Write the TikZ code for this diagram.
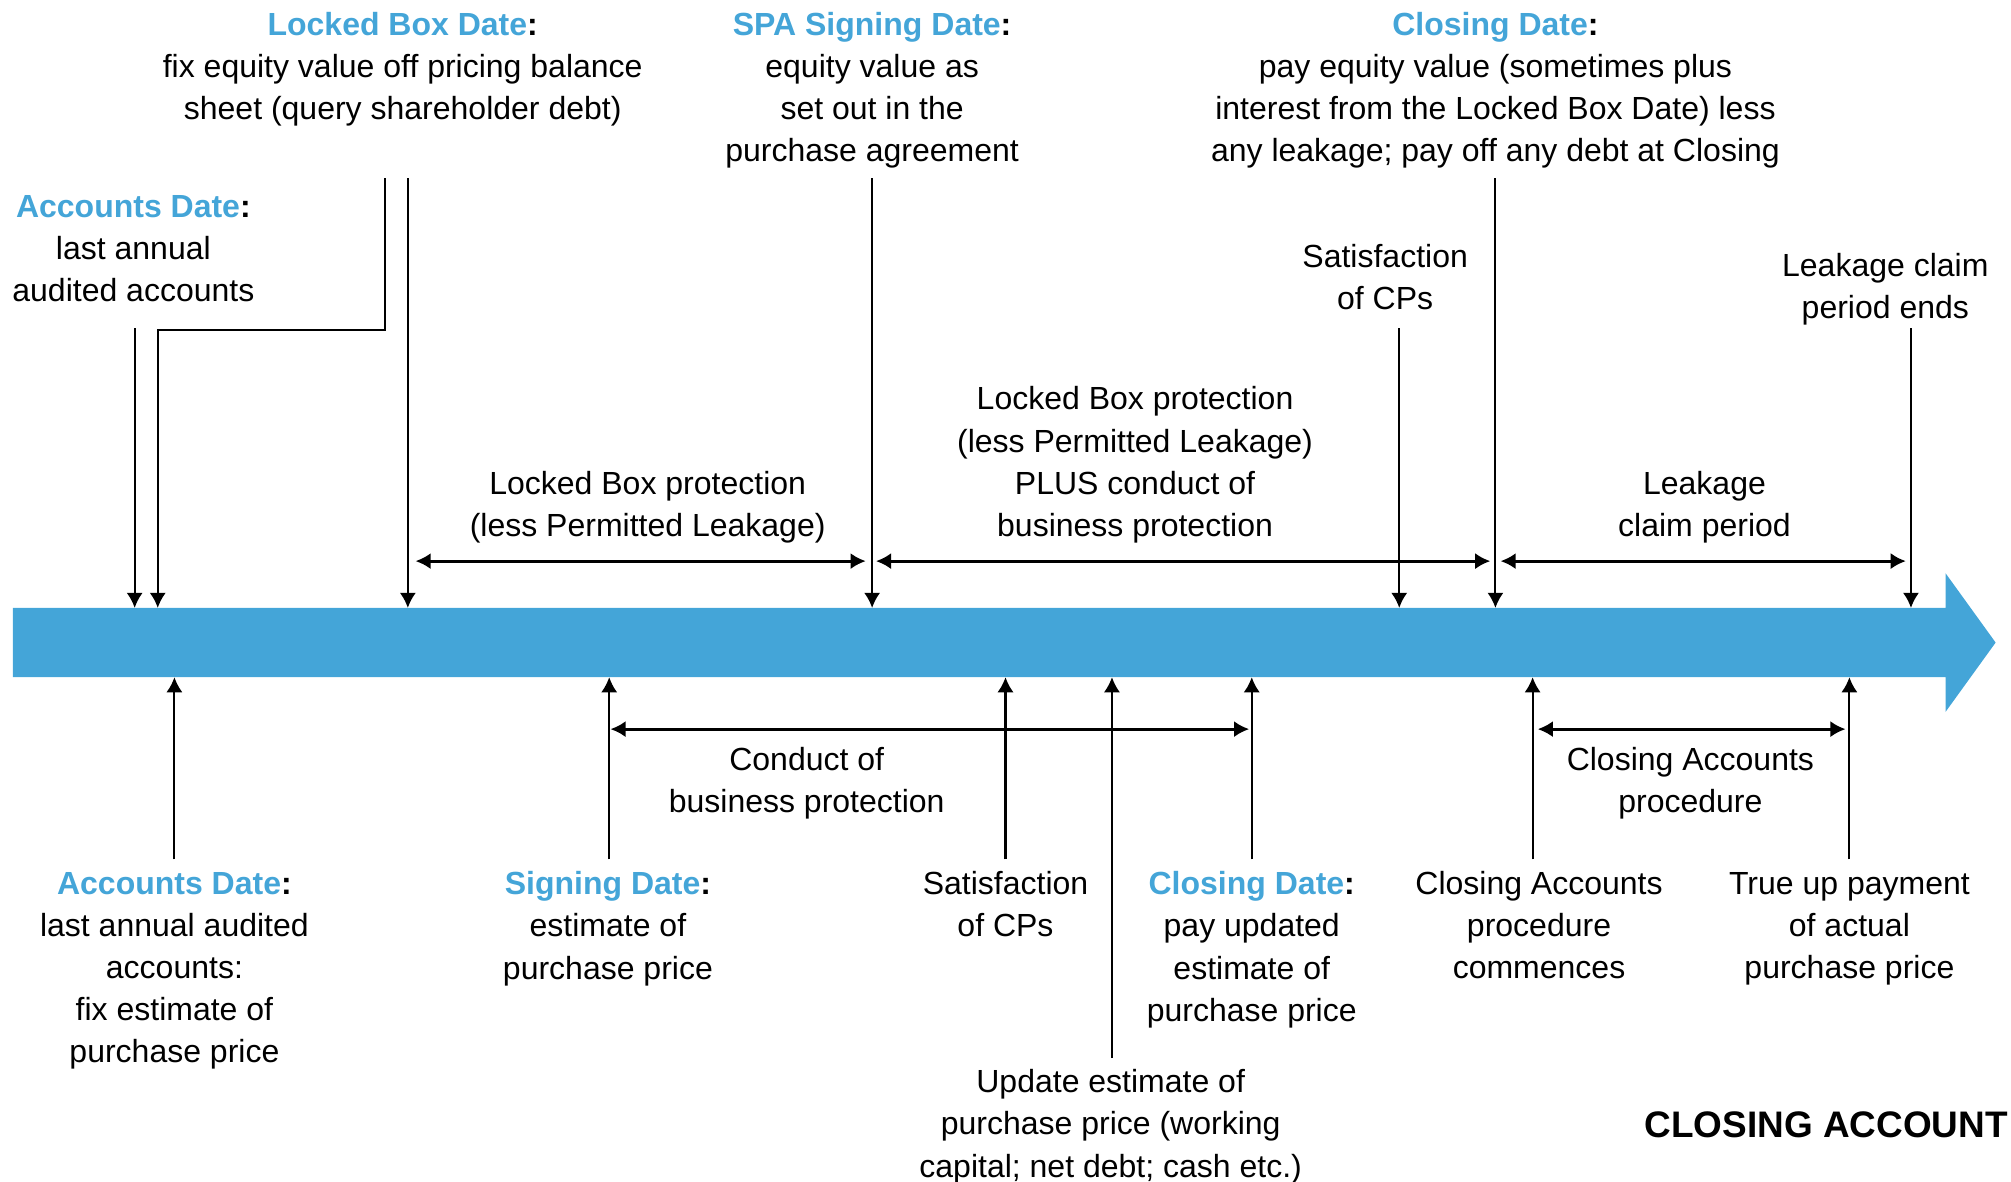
\documentclass[tikz,border=0pt]{standalone}
\usepackage{fontspec}
\setmainfont{Liberation Sans}
\usepackage{tikz}
\usetikzlibrary{arrows.meta}
\definecolor{keyblue}{RGB}{68,165,216}
\newcommand{\hd}[1]{\textbf{\textcolor{keyblue}{#1}:}}

\begin{document}
\begin{tikzpicture}[x=0.012825cm, y=-0.012825cm]
	\tikzset{txt/.style = {align=center, inner sep=0pt, font=\fontsize{9.1}{12}\selectfont}}
	\tikzset{edge/.style = {->, > = {Latex[length=4.3pt, width=4.6pt]}, line width=0.6pt}}
	\tikzset{span/.style = {<->, > = {Latex[length=4.3pt, width=4.6pt]}, line width=0.8pt}}
	\useasboundingbox (0,0) rectangle (1568,921);
	% timeline
	\fill[keyblue] (10,474) -- (1517,474) -- (1517,447) -- (1556,501) -- (1517,555) -- (1517,528) -- (10,528) -- cycle;
	\coordinate (bartop) at (0,474);
	\coordinate (barbot) at (0,528);
	% above the timeline
	\node[txt] (acctop) at (104,194) {\hd{Accounts Date}\\last annual\\audited accounts};
	\node[txt] (lbd) at (314,54) {\hd{Locked Box Date}\\fix equity value off pricing balance\\sheet (query shareholder debt)};
	\node[txt] (spa) at (680,70.5) {\hd{SPA Signing Date}\\equity value as\\set out in the\\purchase agreement};
	\node[txt] (cdtop) at (1166,70.5) {\hd{Closing Date}\\pay equity value (sometimes plus\\interest from the Locked Box Date) less\\any leakage; pay off any debt at Closing};
	\node[txt] (cpstop) at (1080,216) {Satisfaction\\of CPs};
	\node[txt] (lend) at (1470,225.5) {Leakage claim\\period ends};
	\node[txt] (lbp) at (505,395.5) {Locked Box protection\\(less Permitted Leakage)};
	\node[txt] (lbpplus) at (885,362.5) {Locked Box protection\\(less Permitted Leakage)\\PLUS conduct of\\business protection};
	\node[txt] (lcp) at (1329,395.5) {Leakage\\claim period};
	\coordinate (acc1) at (105,256);
	\coordinate (lb1) at (300,139);
	\coordinate (acc2) at (123,257);
	\coordinate (lb2) at (318,139);
	\coordinate (spa1) at (680,139);
	\coordinate (cps1) at (1091,256);
	\coordinate (cd1) at (1166,139);
	\coordinate (lend1) at (1490,256);
	\draw[edge] (acc1) -- (acc1 |- bartop);
	\draw[edge] (lb1) |- (acc2) -- (acc2 |- bartop);
	\draw[edge] (lb2) -- (lb2 |- bartop);
	\draw[edge] (spa1) -- (spa1 |- bartop);
	\draw[edge] (cps1) -- (cps1 |- bartop);
	\draw[edge] (cd1) -- (cd1 |- bartop);
	\draw[edge] (lend1) -- (lend1 |- bartop);
	\coordinate (s1a) at (324,437.5);
	\coordinate (s1b) at (675,437.5);
	\coordinate (s2a) at (683,437.5);
	\coordinate (s2b) at (1162,437.5);
	\coordinate (s3a) at (1170,437.5);
	\coordinate (s3b) at (1486,437.5);
	\draw[span] (s1a) -- (s1b);
	\draw[span] (s2a) -- (s2b);
	\draw[span] (s3a) -- (s3b);
	% below the timeline
	\node[txt] (accbot) at (136,757) {\hd{Accounts Date}\\last annual audited\\accounts:\\fix estimate of\\purchase price};
	\node[txt] (sd) at (474,724) {\hd{Signing Date}\\estimate of\\purchase price};
	\node[txt] (cpsbot) at (784,705) {Satisfaction\\of CPs};
	\node[txt] (cdbot) at (976,740.5) {\hd{Closing Date}\\pay updated\\estimate of\\purchase price};
	\node[txt] (cac) at (1200,721.5) {Closing Accounts\\procedure\\commences};
	\node[txt] (tup) at (1442,724) {True up payment\\of actual\\purchase price};
	\node[txt] (upd) at (866,878.5) {Update estimate of\\purchase price (working\\capital; net debt; cash etc.)};
	\node[txt] (cob) at (629,610.5) {Conduct of\\business protection};
	\node[txt] (cap) at (1318,610.5) {Closing Accounts\\procedure};
	\node[inner sep=0pt, anchor=east, font=\fontsize{10.5}{12}\selectfont\bfseries] (title) at (1566,877) {CLOSING ACCOUNT};
	\coordinate (acc3) at (136,670);
	\coordinate (sd1) at (475,670);
	\coordinate (cps2) at (784,670);
	\coordinate (upd1) at (867,825);
	\coordinate (cd2) at (976,670);
	\coordinate (cac1) at (1195,670);
	\coordinate (tup1) at (1442,670);
	\foreach \p in {acc3, sd1, cps2, upd1, cd2, cac1, tup1}
		\draw[edge] (\p) -- (\p |- barbot);
	\coordinate (s4a) at (476,568.5);
	\coordinate (s4b) at (974,568.5);
	\coordinate (s5a) at (1199,568.5);
	\coordinate (s5b) at (1439,568.5);
	\draw[span] (s4a) -- (s4b);
	\draw[span] (s5a) -- (s5b);
\end{tikzpicture}
\end{document}
